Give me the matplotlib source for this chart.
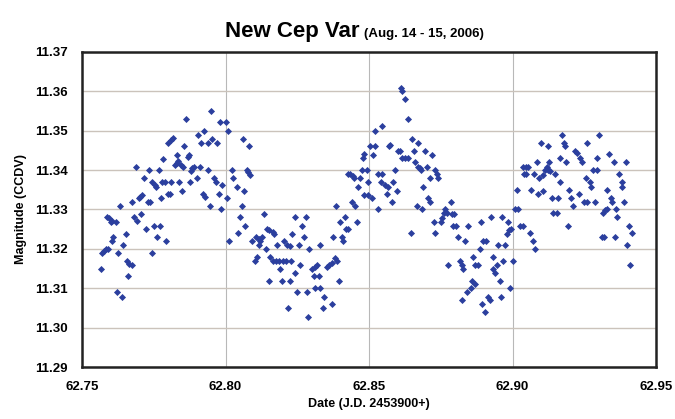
import matplotlib.pyplot as plt

plt.rcParams["font.family"] = ["Liberation Sans", "DejaVu Sans"]
plt.rcParams["font.weight"] = "bold"

# J.D. - 2453900 and CCDV magnitude
jd = [
    62.7566, 62.7571, 62.7578, 62.7582, 62.7589, 62.7586, 62.7594, 62.7601, 62.7606, 62.7617,
    62.7609, 62.7606, 62.7621, 62.7638, 62.7627, 62.7632, 62.7644, 62.7652, 62.7656, 62.7664,
    62.7673, 62.7661, 62.7673, 62.7682, 62.7690, 62.7687, 62.7699, 62.7702, 62.7708, 62.7705,
    62.7717, 62.7722, 62.7729, 62.7737, 62.7733, 62.7743, 62.7745, 62.7754, 62.7757, 62.7752,
    62.7772, 62.7760, 62.7768, 62.7775, 62.7780, 62.7789, 62.7783, 62.7791, 62.7798, 62.7807,
    62.7801, 62.7810, 62.7816, 62.7810, 62.7824, 62.7830, 62.7836, 62.7830, 62.7838, 62.7845,
    62.7853, 62.7847, 62.7856, 62.7861, 62.7868, 62.7873, 62.7876, 62.7880, 62.7884, 62.7889,
    62.7899, 62.7903, 62.7914, 62.7911, 62.7926, 62.7923, 62.7928, 62.7938, 62.7940, 62.7946,
    62.7949, 62.7954, 62.7961, 62.7966, 62.7969, 62.7977, 62.7981, 62.8000, 62.7986, 62.7989,
    62.8004, 62.8010, 62.8012, 62.8021, 62.8027,
    62.8041, 62.8065, 62.8060, 62.8083, 62.8074, 62.8080, 62.8085, 62.8056, 62.8051, 62.8068,
    62.8045, 62.8134, 62.8091, 62.8106, 62.8115, 62.8120, 62.8126, 62.8118, 62.8111, 62.8101,
    62.8144, 62.8153, 62.8164, 62.8169, 62.8141, 62.8155, 62.8164, 62.8176, 62.8188, 62.8199,
    62.8211, 62.8227, 62.8181, 62.8190, 62.8204, 62.8213, 62.8225, 62.8231, 62.8242, 62.8281,
    62.8265, 62.8256, 62.8260, 62.8242, 62.8153, 62.8196, 62.8225, 62.8250, 62.8285, 62.8217,
    62.8274, 62.8292, 62.8300, 62.8312, 62.8320, 62.8310, 62.8326, 62.8312, 62.8329, 62.8329,
    62.8289, 62.8343, 62.8339, 62.8370, 62.8355, 62.8362, 62.8370, 62.8382, 62.8387, 62.8376,
    62.8397, 62.8385, 62.8399, 62.8416, 62.8405, 62.8411, 62.8420, 62.8428, 62.8428, 62.8434,
    62.8443, 62.8448, 62.8440, 62.8451, 62.8459, 62.8463, 62.8469, 62.8474, 62.8480, 62.8483,
    62.8483,
    62.8503, 62.8521, 62.8515, 62.8521, 62.8492, 62.8498, 62.8498, 62.8509, 62.8530, 62.8544,
    62.8532, 62.8544, 62.8542, 62.8556, 62.8567, 62.8561, 62.8579, 62.8573, 62.8570, 62.8585,
    62.8590, 62.8596, 62.8602, 62.8608, 62.8611, 62.8616, 62.8625, 62.8635, 62.8614, 62.8625,
    62.8637, 62.8649, 62.8646, 62.8658, 62.8660, 62.8669, 62.8672, 62.8678, 62.8681, 62.8666,
    62.8686, 62.8689, 62.8695, 62.8701, 62.8707, 62.8712, 62.8712, 62.8721, 62.8730, 62.8736,
    62.8739, 62.8727, 62.8730, 62.8751, 62.8755, 62.8760, 62.8765, 62.8770, 62.8786, 62.8788,
    62.8797, 62.8794, 62.8802, 62.8809, 62.8834, 62.8844, 62.8776, 62.8817, 62.8823, 62.8829,
    62.8863, 62.8869, 62.8881, 62.8860, 62.8869, 62.8840, 62.8855, 62.8825, 62.8887, 62.8890,
    62.8898, 62.8906, 62.8892, 62.8904, 62.8916, 62.8921, 62.8925, 62.8933, 62.8933, 62.8939,
    62.8945, 62.8948, 62.8956, 62.8960, 62.8964, 62.8974, 62.8968, 62.8985, 62.8979, 62.8988,
    62.8995, 62.9003, 62.8991, 62.9014, 62.9008, 62.9020, 62.9026, 62.9037, 62.9037, 62.9041,
    62.9047, 62.9055, 62.9047, 62.9075, 62.9084, 62.9098, 62.9125, 62.9093, 62.9107, 62.9113,
    62.9119, 62.9125, 62.9130, 62.9128, 62.9148, 62.9066, 62.9090, 62.9105, 62.9061, 62.9070,
    62.9078, 62.9136, 62.9159, 62.9142, 62.9154, 62.9167, 62.9165, 62.9174, 62.9179, 62.9183,
    62.9188, 62.9198, 62.9202, 62.9209, 62.9194, 62.9217, 62.9223, 62.9235, 62.9241, 62.9232,
    62.9249, 62.9260, 62.9260, 62.9256, 62.9270, 62.9275, 62.9281, 62.9295, 62.9287, 62.9293,
    62.9302, 62.9314, 62.9322, 62.9328, 62.9310, 62.9318, 62.9330, 62.9337, 62.9342, 62.9345,
    62.9353, 62.9357, 62.9360, 62.9365, 62.9372, 62.9380, 62.9383, 62.9388, 62.9395, 62.9407,
    62.9415, 62.9400, 62.9411,
]
mag = [
    11.3149, 11.3189, 11.3195, 11.3200, 11.3200, 11.3280, 11.3278, 11.3269, 11.3272, 11.3268,
    11.3229, 11.3221, 11.3091, 11.3079, 11.3189, 11.3309, 11.3210, 11.3238, 11.3170, 11.3162,
    11.3159, 11.3130, 11.3320, 11.3280, 11.3271, 11.3409, 11.3329, 11.3333, 11.3337, 11.3289,
    11.3380, 11.3250, 11.3320, 11.3320, 11.3400, 11.3189, 11.3369, 11.3363, 11.3357, 11.3259,
    11.3259, 11.3229, 11.3400, 11.3329, 11.3369, 11.3369, 11.3429, 11.3219, 11.3340, 11.3340,
    11.3469, 11.3477, 11.3481, 11.3369, 11.3414, 11.3418, 11.3422, 11.3439, 11.3369, 11.3414,
    11.3409, 11.3348, 11.3460, 11.3531, 11.3433, 11.3439, 11.3369, 11.3398, 11.3405, 11.3408,
    11.3380, 11.3490, 11.3470, 11.3409, 11.3500, 11.3340, 11.3331, 11.3400, 11.3470, 11.3309,
    11.3549, 11.3479, 11.3380, 11.3369, 11.3470, 11.3340, 11.3521, 11.3521, 11.3300, 11.3363,
    11.3330, 11.3500, 11.3219, 11.3400, 11.3380,
    11.3358, 11.3348, 11.3479, 11.3460, 11.3400, 11.3394, 11.3388, 11.3309, 11.3280, 11.3259,
    11.3240, 11.3289, 11.3219, 11.3229, 11.3225, 11.3219, 11.3229, 11.3210, 11.3180, 11.3169,
    11.3250, 11.3248, 11.3244, 11.3238, 11.3200, 11.3180, 11.3169, 11.3169, 11.3169, 11.3169,
    11.3169, 11.3169, 11.3210, 11.3149, 11.3219, 11.3210, 11.3208, 11.3238, 11.3280, 11.3280,
    11.3259, 11.3210, 11.3159, 11.3140, 11.3119, 11.3119, 11.3119, 11.3090, 11.3090, 11.3049,
    11.3229, 11.3200, 11.3149, 11.3155, 11.3159, 11.3130, 11.3130, 11.3100, 11.3100, 11.3210,
    11.3028, 11.3079, 11.3049, 11.3059, 11.3155, 11.3159, 11.3164, 11.3178, 11.3170, 11.3229,
    11.3119, 11.3309, 11.3269, 11.3280, 11.3229, 11.3219, 11.3250, 11.3250, 11.3390, 11.3390,
    11.3384, 11.3380, 11.3320, 11.3309, 11.3269, 11.3358, 11.3380, 11.3400, 11.3430, 11.3336,
    11.3441,
    11.3460, 11.3460, 11.3439, 11.3500, 11.3400, 11.3369, 11.3337, 11.3329, 11.3300, 11.3511,
    11.3390, 11.3390, 11.3369, 11.3361, 11.3358, 11.3339, 11.3320, 11.3464, 11.3460, 11.3369,
    11.3400, 11.3348, 11.3449, 11.3449, 11.3608, 11.3602, 11.3581, 11.3531, 11.3430, 11.3430,
    11.3430, 11.3479, 11.3240, 11.3449, 11.3420, 11.3470, 11.3409, 11.3405, 11.3400, 11.3309,
    11.3300, 11.3358, 11.3449, 11.3409, 11.3330, 11.3320, 11.3380, 11.3439, 11.3400, 11.3390,
    11.3380, 11.3269, 11.3240, 11.3269, 11.3278, 11.3291, 11.3300, 11.3291, 11.3320, 11.3289,
    11.3289, 11.3259, 11.3259, 11.3229, 11.3219, 11.3259, 11.3159, 11.3169, 11.3159, 11.3149,
    11.3180, 11.3159, 11.3159, 11.3119, 11.3110, 11.3090, 11.3100, 11.3069, 11.3200, 11.3269,
    11.3219, 11.3219, 11.3059, 11.3039, 11.3079, 11.3070, 11.3280, 11.3180, 11.3149, 11.3140,
    11.3159, 11.3210, 11.3119, 11.3079, 11.3280, 11.3210, 11.3169, 11.3269, 11.3238, 11.3248,
    11.3250, 11.3169, 11.3100, 11.3350, 11.3300, 11.3300, 11.3259, 11.3259, 11.3409, 11.3390,
    11.3409, 11.3409, 11.3390, 11.3390, 11.3420, 11.3469, 11.3460, 11.3380, 11.3388, 11.3401,
    11.3409, 11.3401, 11.3398, 11.3420, 11.3390, 11.3350, 11.3340, 11.3348, 11.3240, 11.3219,
    11.3200, 11.3330, 11.3330, 11.3291, 11.3291, 11.3369, 11.3430, 11.3490, 11.3469, 11.3460,
    11.3420, 11.3350, 11.3330, 11.3309, 11.3259, 11.3449, 11.3443, 11.3430, 11.3420, 11.3340,
    11.3320, 11.3320, 11.3470, 11.3380, 11.3369, 11.3358, 11.3400, 11.3400, 11.3320, 11.3430,
    11.3490, 11.3291, 11.3299, 11.3301, 11.3229, 11.3229, 11.3350, 11.3441, 11.3330, 11.3320,
    11.3420, 11.3229, 11.3300, 11.3280, 11.3390, 11.3369, 11.3358, 11.3320, 11.3420, 11.3259,
    11.3240, 11.3210, 11.3159,
]

x_ticks = [62.75, 62.80, 62.85, 62.90, 62.95]
y_ticks = [11.29, 11.30, 11.31, 11.32, 11.33, 11.34, 11.35, 11.36, 11.37]

fig = plt.figure(figsize=(6.75, 4.19), dpi=100)
ax = fig.add_axes([0.1215, 0.1241, 0.8504, 0.7518])

ax.scatter(jd, mag, marker="D", s=13, color="#2b3f9e", linewidths=0, zorder=3)

ax.set_xlim(62.75, 62.95)
ax.set_ylim(11.29, 11.37)
ax.set_xticks(x_ticks)
ax.set_xticklabels([f"{t:.2f}" for t in x_ticks])
ax.set_yticks(y_ticks)
ax.set_yticklabels([f"{t:.2f}" for t in y_ticks])
ax.tick_params(length=0, labelsize=9.5, pad=10)
ax.grid(axis="y", color="#cbc3bb", linewidth=1.0)
ax.grid(axis="x", color="#b8b8b8", linewidth=0.8)
ax.set_axisbelow(True)
for sp in ax.spines.values():
    sp.set_linewidth(1.8)
    sp.set_color("#222222")

ax.set_xlabel("Date (J.D. 2453900+)", fontsize=9, fontweight="bold", labelpad=4)
ax.set_ylabel("Magnitude (CCDV)", fontsize=9, fontweight="bold", labelpad=6)

fig.text(0.533, 0.912, "New Cep Var", fontsize=16, fontweight="bold", ha="right", va="baseline")
fig.text(0.539, 0.912, "(Aug. 14 - 15, 2006)", fontsize=9.5, fontweight="bold", ha="left", va="baseline")

fig.savefig("out.png", dpi=100)
